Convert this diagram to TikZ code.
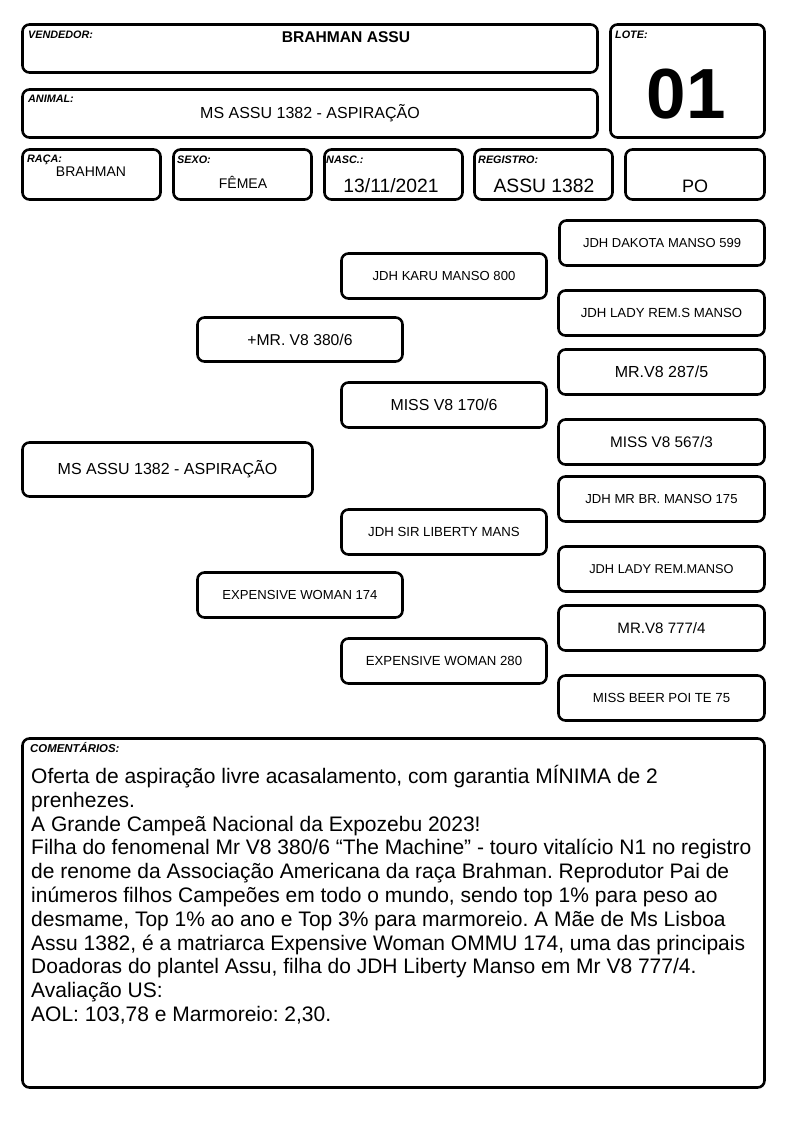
\documentclass[tikz,border=0pt]{standalone}
\usepackage{fontspec}
\setmainfont{Liberation Sans}
\frenchspacing
\newcommand\fs[1]{\fontsize{#1}{#1}\selectfont}
\newcommand\pbox[7]{%
  \node[box,minimum width={#4-#2-3},minimum height={#5-#3-3},font=#6] (#1) at ({(#2+#4)/2},{(#3+#5)/2}) {#7};}
\begin{document}
\begin{tikzpicture}[x=1pt,y=-1pt,
  box/.style={draw=black,line width=2.6pt,rounded corners=7pt,inner sep=0pt,fill=white},
  lab/.style={anchor=base west,inner sep=0pt,font=\fontsize{10.8}{12}\selectfont\bfseries\itshape},
  val/.style={anchor=base,inner sep=0pt}]
\useasboundingbox (0,0) rectangle (794,1123);
% header boxes
\pbox{vend}{21}{23}{599}{74}{\fs{15}}{}
\pbox{lote}{609}{23}{766}{139}{\fs{15}}{}
\pbox{anim}{21}{88}{599}{139}{\fs{15}}{}
\pbox{raca}{21}{148}{162}{201}{\fs{14}}{}
\pbox{sexo}{172}{148}{313}{201}{\fs{14}}{}
\pbox{nasc}{323}{148}{464}{201}{\fs{14}}{}
\pbox{regi}{473}{148}{614}{201}{\fs{14}}{}
\pbox{po}{624}{148}{766}{201}{\fs{14}}{}
% labels
\node[lab] (lvend) at (28,39) {VENDEDOR:};
\node[val,font=\fs{15.6}\bfseries] (tvend) at (346,43) {BRAHMAN ASSU};
\node[lab] (llote) at (615,39) {LOTE:};
\node[val,font=\fontsize{71}{78}\selectfont\bfseries] (tlote) at (686,119) {01};
\node[lab] (lanim) at (28,103) {ANIMAL:};
\node[val,font=\fs{16}] (tanim) at (310,119) {MS ASSU 1382 - ASPIRAÇÃO};
\node[lab] (lraca) at (27,163) {RAÇA:};
\node[val,font=\fs{14}] (traca) at (91,177) {BRAHMAN};
\node[lab] (lsexo) at (177,164) {SEXO:};
\node[val,font=\fs{14}] (tsexo) at (243,189) {FÊMEA};
\node[lab] (lnasc) at (326,164) {NASC.:};
\node[val,font=\fs{19.3}] (tnasc) at (391,193) {13/11/2021};
\node[lab] (lregi) at (478,164) {REGISTRO:};
\node[val,font=\fs{19.3}] (tregi) at (544,193) {ASSU 1382};
\node[val,font=\fs{18}] (tpo) at (695,193) {PO};
% pedigree
\pbox{p1}{558}{219}{766}{267}{\fs{13}}{JDH DAKOTA MANSO 599}
\pbox{p2}{340}{252}{548}{300}{\fs{13.1}}{JDH KARU MANSO 800}
\pbox{p3}{557}{289}{766}{337}{\fs{13.2}}{JDH LADY REM.S MANSO}
\pbox{p4}{196}{316}{404}{363}{\fs{15.7}}{+MR. V8 380/6}
\pbox{p5}{557}{348}{766}{396}{\fs{16}}{MR.V8 287/5}
\pbox{p6}{340}{381}{548}{429}{\fs{15.9}}{MISS V8 170/6}
\pbox{p7}{557}{418}{766}{466}{\fs{15.3}}{MISS V8 567/3}
\pbox{p8}{21}{441}{314}{498}{\fs{16}}{MS ASSU 1382 - ASPIRAÇÃO}
\pbox{p9}{557}{475}{766}{523}{\fs{13.1}}{JDH MR BR. MANSO 175}
\pbox{p10}{340}{508}{548}{556}{\fs{13.2}}{JDH SIR LIBERTY MANS}
\pbox{p11}{557}{545}{766}{593}{\fs{12.8}}{JDH LADY REM.MANSO}
\pbox{p12}{196}{571}{404}{619}{\fs{13.1}}{EXPENSIVE WOMAN 174}
\pbox{p13}{557}{604}{766}{652}{\fs{15.1}}{MR.V8 777/4}
\pbox{p14}{340}{637}{548}{685}{\fs{13.2}}{EXPENSIVE WOMAN 280}
\pbox{p15}{557}{674}{766}{722}{\fs{13.2}}{MISS BEER POI TE 75}
% comments
\pbox{com}{21}{737}{766}{1089}{\fs{12}}{}
\node[lab,font=\fontsize{11.4}{12}\selectfont\bfseries\itshape] (lcom) at (30,752) {COMENTÁRIOS:};
\node[anchor=north west,inner sep=0pt,align=left,font=\fontsize{21}{23.8}\selectfont] (tcom) at (31,765) {%
Oferta de aspiração livre acasalamento, com garantia MÍNIMA de 2\\
prenhezes.\\
A Grande Campeã Nacional da Expozebu 2023!\\
Filha do fenomenal Mr V8 380/6 “The Machine” - touro vitalício N1 no registro\\
de renome da Associação Americana da raça Brahman. Reprodutor Pai de\\
inúmeros filhos Campeões em todo o mundo, sendo top 1\% para peso ao\\
desmame, Top 1\% ao ano e Top 3\% para marmoreio. A Mãe de Ms Lisboa\\
Assu 1382, é a matriarca Expensive Woman OMMU 174, uma das principais\\
Doadoras do plantel Assu, filha do JDH Liberty Manso em Mr V8 777/4.\\
Avaliação US:\\
AOL: 103,78 e Marmoreio: 2,30.};
\end{tikzpicture}
\end{document}
